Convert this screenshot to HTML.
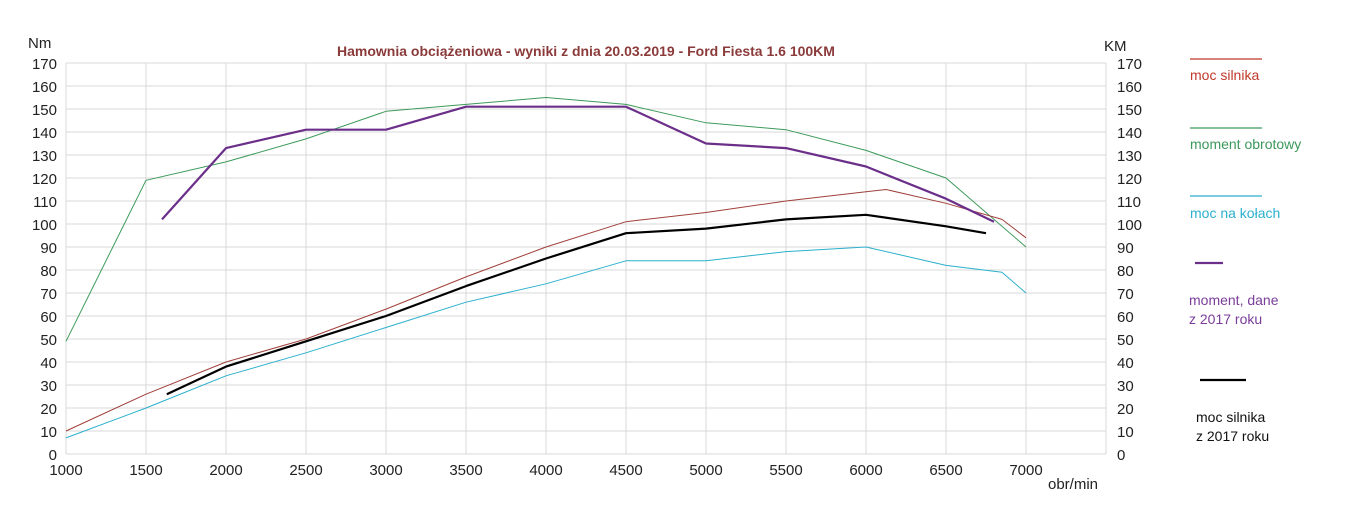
<!DOCTYPE html>
<html><head><meta charset="utf-8"><style>
body{margin:0;background:#fff;width:1348px;height:524px;overflow:hidden;font-family:"Liberation Sans","DejaVu Sans",sans-serif}
svg text{font-family:"Liberation Sans","DejaVu Sans",sans-serif}
</style></head><body>
<svg id="c" width="1348" height="524"></svg>
<script>
const xTicks=[1000,1500,2000,2500,3000,3500,4000,4500,5000,5500,6000,6500,7000];
const yTicks=[0,10,20,30,40,50,60,70,80,90,100,110,120,130,140,150,160,170];
const powerRpm=[1000,1500,2000,2500,3000,3500,4000,4500,5000,5500,6000,6125,6500,6850,7000];
const powerVal=[10,26,40,50,63,77,90,101,105,110,114,115,109,102,94];
const torqueRpm=[1000,1500,2000,2500,3000,3500,4000,4500,5000,5500,6000,6500,7000];
const torqueVal=[49,119,127,137,149,152,155,152,144,141,132,120,90];
const wheelRpm=[1000,1500,2000,2500,3000,3500,4000,4500,5000,5500,6000,6500,6850,7000];
const wheelVal=[7,20,34,44,55,66,74,84,84,88,90,82,79,70];
const torque17Rpm=[1600,2000,2500,3000,3500,4000,4500,5000,5500,6000,6500,6800];
const torque17Val=[102,133,141,141,151,151,151,135,133,125,111,101];
const power17Rpm=[1630,2000,2500,3000,3500,4000,4500,5000,5500,6000,6500,6750];
const power17Val=[26,38,49,60,73,85,96,98,102,104,99,96];

const NS='http://www.w3.org/2000/svg';
const svg=document.getElementById('c');
const X=v=>66+(v-1000)*0.16;
const Y=v=>454-v*2.3;
function mk(tag,attrs,parent){const e=document.createElementNS(NS,tag);for(const k in attrs)e.setAttribute(k,attrs[k]);(parent||svg).appendChild(e);return e;}
function txt(s,x,y,attrs){const e=mk('text',Object.assign({x:x,y:y},attrs));e.textContent=s;return e;}

yTicks.forEach(t=>{
  const l=mk('line',{x1:66,x2:1106,y1:Y(t),y2:Y(t),stroke:'#d9d9d9','stroke-width':1});
  
  
  const a=txt(t,57,Y(t)+6,{'font-size':15,'text-anchor':'end',fill:'#222'});
  
  
  const b=txt(t,1117,Y(t)+6,{'font-size':15,fill:'#222'});
  
  
});
xTicks.forEach(t=>{
  const l=mk('line',{x1:X(t),x2:X(t),y1:Y(170),y2:Y(0),stroke:'#d9d9d9','stroke-width':1});
  
  
  const a=txt(t,X(t),475,{'font-size':15,'text-anchor':'middle',fill:'#222'});
  
  
});
const rb=mk('line',{x1:1106,x2:1106,y1:Y(170),y2:Y(0),stroke:'#d9d9d9'});



function series(xs,ys,color,w,name){
  const p=mk('polyline',{points:xs.map((x,i)=>X(x)+','+Y(ys[i])).join(' '),fill:'none',stroke:color,'stroke-width':w,'stroke-linejoin':'round'});
  
  
}
series(torqueRpm,torqueVal,'#3c9a5a',1,'series-moment-obrotowy');
series(powerRpm,powerVal,'#a0403a',1,'series-moc-silnika');
series(wheelRpm,wheelVal,'#2bb0cc',1,'series-moc-na-kolach');
series(torque17Rpm,torque17Val,'#6b2f8a',2.2,'series-moment-2017');
series(power17Rpm,power17Val,'#000',2.2,'series-moc-silnika-2017');

let e;
e=txt('Hamownia obciążeniowa - wyniki z dnia 20.03.2019 - Ford Fiesta 1.6 100KM',586,56,{'font-size':14,'font-weight':'bold','text-anchor':'middle',fill:'#8b3a3a'});


e=txt('Nm',28,48,{'font-size':15,fill:'#222'});


e=txt('KM',1104,51,{'font-size':15,fill:'#222'});


e=txt('obr/min',1048,489,{'font-size':15,fill:'#222'});



const lg=[
 {x1:1190,x2:1262,y:59,c:'#c0392b',w:1.2,t:['moc silnika'],ty:80,tc:'#c0392b',tx:1190},
 {x1:1190,x2:1262,y:128,c:'#3c9a5a',w:1.2,t:['moment obrotowy'],ty:149,tc:'#3c9a5a',tx:1190},
 {x1:1190,x2:1262,y:196,c:'#2bb0cc',w:1.2,t:['moc na kołach'],ty:218,tc:'#2bb0cc',tx:1190},
 {x1:1195,x2:1223,y:263,c:'#6b2f8a',w:2.2,t:['moment, dane','z 2017 roku'],ty:305,tc:'#7a3d9a',tx:1189},
 {x1:1200,x2:1246,y:380,c:'#000',w:2.2,t:['moc silnika','z 2017 roku'],ty:422,tc:'#111',tx:1196}
];
lg.forEach(o=>{
  const g=mk('g',{});
  
  
  mk('line',{x1:o.x1,x2:o.x2,y1:o.y,y2:o.y,stroke:o.c,'stroke-width':o.w},g);
  o.t.forEach((s,i)=>{const t=mk('text',{x:o.tx,y:o.ty+i*19,'font-size':14,fill:o.tc},g);t.textContent=s;});
});
</script>
</body></html>
